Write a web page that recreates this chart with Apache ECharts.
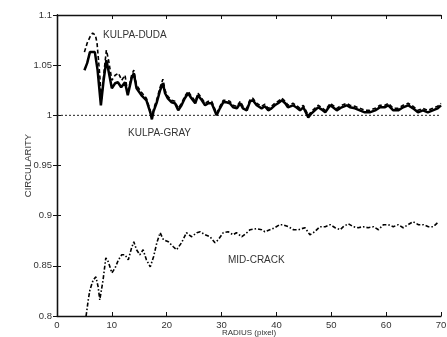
<!DOCTYPE html>
<html><head><meta charset="utf-8">
<script src="https://cdn.jsdelivr.net/npm/echarts@6/dist/echarts.min.js"></script>
<style>html,body{margin:0;padding:0;background:#fff}#c{width:447px;height:337px}</style>
</head><body><div id="c"></div>
<script>
const grayX = [5.0,5.5,6.0,6.9,7.4,8.0,8.5,9.0,9.3,10.0,10.6,11.1,11.7,12.4,12.9,13.6,14.0,14.5,15.4,16.3,17.0,17.3,17.6,18.2,18.8,19.3,19.7,20.2,20.9,21.5,22.1,22.7,23.3,23.9,24.5,25.2,25.7,26.4,27.0,27.6,28.2,29.1,29.7,30.3,30.9,31.5,32.1,32.8,33.4,33.9,34.6,35.2,35.7,36.4,37.3,37.9,38.5,39.1,39.7,40.3,41.0,41.6,42.1,43.0,43.6,44.3,44.9,45.8,46.4,47.0,47.6,48.2,48.9,49.8,50.3,51.0,51.9,52.8,53.4,54.3,55.2,56.1,57.0,58.0,58.9,59.8,60.4,61.3,62.2,63.1,64.0,64.9,65.8,66.7,67.6,68.5,69.4,70.0];
const grayY = [1.045,1.052,1.063,1.063,1.045,1.010,1.035,1.055,1.047,1.027,1.032,1.033,1.028,1.033,1.020,1.037,1.042,1.027,1.020,1.015,1.003,0.996,1.004,1.013,1.025,1.032,1.022,1.017,1.013,1.012,1.005,1.010,1.017,1.022,1.017,1.012,1.020,1.015,1.010,1.012,1.012,1.000,1.007,1.013,1.013,1.012,1.008,1.007,1.012,1.007,1.005,1.014,1.015,1.010,1.007,1.009,1.005,1.007,1.010,1.012,1.015,1.012,1.008,1.010,1.008,1.005,1.008,0.998,1.002,1.005,1.008,1.006,1.003,1.010,1.008,1.005,1.008,1.010,1.008,1.007,1.005,1.003,1.003,1.005,1.008,1.008,1.010,1.005,1.005,1.008,1.010,1.007,1.003,1.005,1.003,1.005,1.007,1.010];
const dudaX = [5.0,5.5,6.0,6.5,7.0,7.3,7.8,8.1,8.6,9.0,9.4,10.0,10.6,11.2,11.8,12.4,12.9,13.6,14.0,14.5,15.4,16.3,17.0,17.3,17.6,18.2,18.8,19.3,19.7,20.2,20.9,21.5,22.1,22.7,23.3,23.9,24.5,25.2,25.7,26.4,27.0,27.6,28.2,29.1,29.7,30.3,30.9,31.5,32.1,32.8,33.4,33.9,34.6,35.2,35.7,36.4,37.3,37.9,38.5,39.1,39.7,40.3,41.0,41.6,42.1,43.0,43.6,44.3,44.9,45.8,46.4,47.0,47.6,48.2,48.9,49.8,50.3,51.0,51.9,52.8,53.4,54.3,55.2,56.1,57.0,58.0,58.9,59.8,60.4,61.3,62.2,63.1,64.0,64.9,65.8,66.7,67.6,68.5,69.4,70.0];
const dudaY = [1.063,1.072,1.078,1.082,1.080,1.072,1.040,1.015,1.045,1.065,1.055,1.035,1.040,1.042,1.035,1.040,1.022,1.040,1.045,1.030,1.023,1.017,1.005,0.998,1.006,1.016,1.028,1.036,1.025,1.019,1.015,1.014,1.007,1.012,1.019,1.024,1.019,1.014,1.022,1.017,1.012,1.014,1.014,1.002,1.009,1.015,1.015,1.014,1.010,1.009,1.014,1.009,1.007,1.016,1.017,1.012,1.009,1.011,1.007,1.009,1.012,1.014,1.017,1.014,1.010,1.012,1.010,1.007,1.010,1.000,1.004,1.007,1.010,1.008,1.005,1.012,1.010,1.007,1.010,1.012,1.010,1.009,1.007,1.005,1.005,1.007,1.010,1.010,1.012,1.007,1.007,1.010,1.012,1.009,1.005,1.007,1.005,1.007,1.009,1.012];
const midX = [5.3,5.7,6.0,6.6,7.1,7.5,7.8,8.4,8.9,9.35,10.0,10.6,11.2,11.8,12.4,13.0,13.6,14.0,14.5,15.1,15.7,16.3,17.0,17.6,18.2,18.8,19.4,20.3,21.2,21.8,22.7,23.6,24.5,25.5,26.1,27.0,27.9,28.8,29.4,30.3,31.2,32.1,32.7,33.7,34.6,35.2,36.4,37.3,37.9,38.8,39.7,40.6,41.2,42.2,43.1,44.0,45.2,46.1,47.0,47.9,48.9,49.8,50.7,51.6,52.2,53.1,54.0,54.9,55.8,56.7,57.7,58.6,59.5,60.4,61.3,62.2,63.1,64.0,64.9,65.9,66.8,67.7,68.6,69.2,69.5];
const midY = [0.800,0.816,0.826,0.836,0.839,0.829,0.816,0.836,0.858,0.854,0.843,0.848,0.856,0.861,0.861,0.856,0.868,0.874,0.866,0.861,0.866,0.856,0.849,0.859,0.873,0.883,0.876,0.874,0.869,0.866,0.873,0.883,0.879,0.883,0.884,0.881,0.879,0.873,0.876,0.883,0.884,0.881,0.883,0.879,0.883,0.886,0.887,0.886,0.884,0.886,0.888,0.891,0.891,0.889,0.886,0.886,0.888,0.881,0.884,0.889,0.889,0.891,0.888,0.886,0.889,0.892,0.889,0.888,0.889,0.888,0.889,0.886,0.891,0.891,0.889,0.891,0.888,0.891,0.894,0.891,0.891,0.889,0.889,0.892,0.894];
const refLineX = [0,70];
const refLineY = [1,1];
const labels = ['KULPA-DUDA','KULPA-GRAY','MID-CRACK'];

const zip = (a,b) => a.map((v,i)=>[v,b[i]]);
const font = 'Liberation Sans, Arial, sans-serif';
const axCol = '#111';
const chart = echarts.init(document.getElementById('c'), null, {renderer:'canvas'});
const xBase = {type:'value', min:0, max:70, interval:10, splitLine:{show:false},
  axisLine:{lineStyle:{color:axCol,width:1.3}}, axisTick:{inside:true,length:4,lineStyle:{color:axCol}}};
const yBase = {type:'value', min:0.8, max:1.1, interval:0.05, splitLine:{show:false},
  axisLine:{lineStyle:{color:axCol,width:1.3}}, axisTick:{inside:true,length:4,lineStyle:{color:axCol}}};
chart.setOption({
  animation:false,
  backgroundColor:'#fff',
  grid:{left:57,right:6,top:15,bottom:21,containLabel:false,outerBoundsMode:'none'},
  xAxis:[
    Object.assign({}, xBase, {position:'bottom', name:'RADIUS (pixel)', nameLocation:'middle', nameGap:13,
      nameMoveOverlap:false,
      nameTextStyle:{fontFamily:font,fontSize:8,color:'#333'},
      axisLabel:{fontFamily:font,fontSize:9.5,color:'#333',margin:4}}),
    Object.assign({}, xBase, {position:'top', axisLabel:{show:false}})
  ],
  yAxis:[
    Object.assign({}, yBase, {position:'left', name:'CIRCULARITY', nameLocation:'middle', nameGap:24,
      nameMoveOverlap:false,
      nameTextStyle:{fontFamily:font,fontSize:9.5,color:'#333'},
      axisLabel:{fontFamily:font,fontSize:9.5,color:'#333',margin:5,
        formatter:v=>String(+v.toFixed(2))}}),
    Object.assign({}, yBase, {position:'right', axisLabel:{show:false}})
  ],
  series:[
    {type:'line', data:zip(refLineX,refLineY), symbol:'none', silent:true,
      lineStyle:{color:'#222',width:1,type:[2,2]}},
    {type:'line', name:labels[0], data:zip(dudaX,dudaY), symbol:'none',
      lineStyle:{color:'#000',width:1.6,type:[4,2.5]}},
    {type:'line', name:labels[1], data:zip(grayX,grayY), symbol:'none',
      lineStyle:{color:'#000',width:2.5}},
    {type:'line', name:labels[2], data:zip(midX,midY), symbol:'none',
      lineStyle:{color:'#000',width:1.6,type:[4,2,1.5,2]}}
  ],
  graphic:[
    {type:'text', left:103, top:30, style:{text:labels[0], font:'10px '+font, fill:'#333'}},
    {type:'text', left:128, top:128, style:{text:labels[1], font:'10px '+font, fill:'#333'}},
    {type:'text', left:228, top:255, style:{text:labels[2], font:'10px '+font, fill:'#333'}}
  ]
});
</script></body></html>
